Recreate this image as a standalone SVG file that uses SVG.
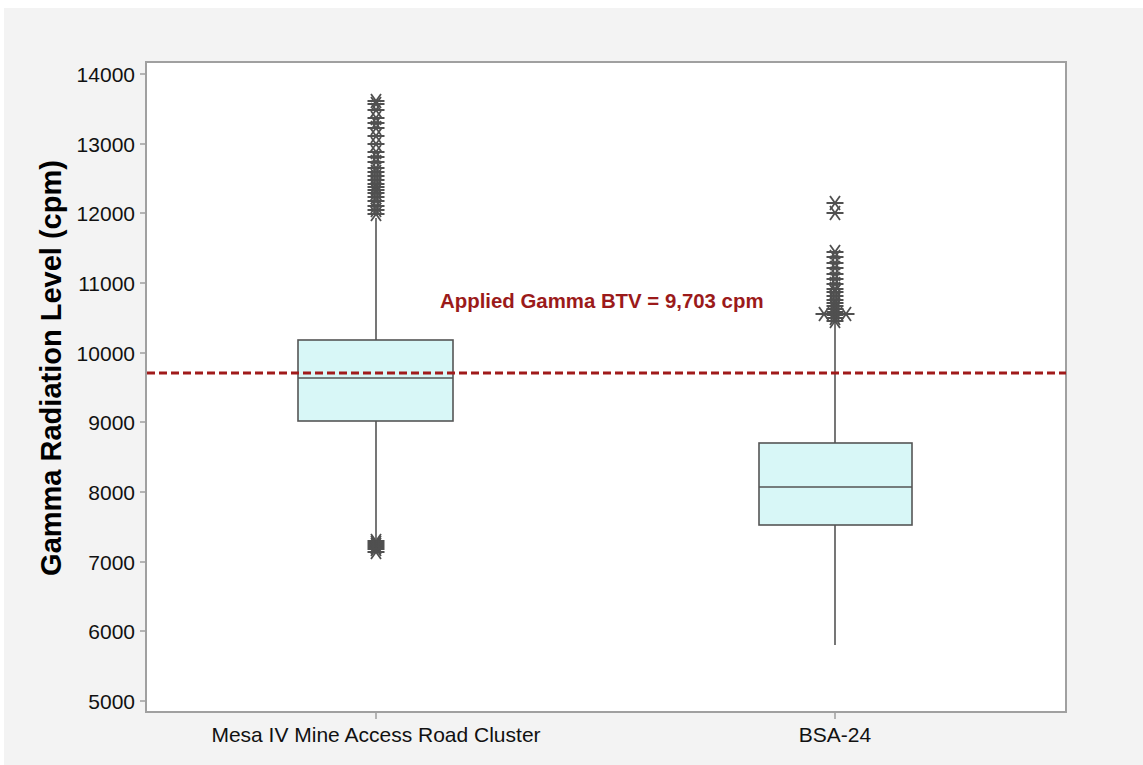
<svg xmlns="http://www.w3.org/2000/svg" xmlns:xlink="http://www.w3.org/1999/xlink" width="1143" height="765" viewBox="0 0 1143 765">
<style>
.tick{font-family:"Liberation Sans",Arial,sans-serif;font-size:21px;fill:#111}
.box{fill:#d8f7f7;stroke:#555;stroke-width:1.6}
.wh{stroke:#555;stroke-width:1.6;fill:none}
.ax{stroke:#a0a0a0;stroke-width:2;fill:none}
.tk{stroke:#a0a0a0;stroke-width:1.5}
</style>
<defs>
<g id="ast" stroke="#505050" stroke-width="1.8" fill="none">
<path d="M-8.5 0H8.5M-5 -7L5 7M-5 7L5 -7"/>
</g>
</defs>
<rect x="0" y="0" width="1143" height="765" fill="#ffffff"/>
<rect x="4" y="8" width="1139" height="757" fill="#f3f3f3"/>
<rect x="146" y="62" width="920" height="650" fill="#ffffff"/>
<g id="axes">
<path class="ax" d="M146 62H1066V712H146Z"/>
<g class="tk">
<path d="M140 74H146M140 144H146M140 213H146M140 283H146M140 353H146M140 422H146M140 492H146M140 562H146M140 631H146M140 701H146"/>
<path d="M376 712V719M835 712V719"/>
</g>
<g class="tick" text-anchor="end">
<text x="135" y="81.5">14000</text>
<text x="135" y="151.5">13000</text>
<text x="135" y="220.5">12000</text>
<text x="135" y="290.5">11000</text>
<text x="135" y="360.5">10000</text>
<text x="135" y="429.5">9000</text>
<text x="135" y="499.5">8000</text>
<text x="135" y="569.5">7000</text>
<text x="135" y="638.5">6000</text>
<text x="135" y="708.5">5000</text>
</g>
<g class="tick" text-anchor="middle">
<text x="376" y="742">Mesa IV Mine Access Road Cluster</text>
<text x="835" y="742">BSA-24</text>
</g>
<text transform="translate(61 368) rotate(-90)" text-anchor="middle" font-family="Liberation Sans,Arial,sans-serif" font-size="29" font-weight="bold" fill="#000">Gamma Radiation Level (cpm)</text>
</g>
<g id="box-mesa">
<path class="wh" d="M376 218V340M376 421V539"/>
<rect class="box" x="298" y="340" width="155" height="81"/>
<path class="wh" d="M298 378H453"/>
<g>
<use href="#ast" x="376" y="101"/><use href="#ast" x="376" y="104"/><use href="#ast" x="376" y="110"/>
<use href="#ast" x="376" y="118"/><use href="#ast" x="376" y="123"/><use href="#ast" x="376" y="128"/>
<use href="#ast" x="376" y="136"/><use href="#ast" x="376" y="144"/><use href="#ast" x="376" y="152"/>
<use href="#ast" x="376" y="157"/><use href="#ast" x="376" y="162"/><use href="#ast" x="376" y="168"/>
<use href="#ast" x="376" y="172"/><use href="#ast" x="376" y="176"/><use href="#ast" x="376" y="180"/>
<use href="#ast" x="376" y="184"/><use href="#ast" x="376" y="187"/><use href="#ast" x="376" y="190"/>
<use href="#ast" x="376" y="193"/><use href="#ast" x="376" y="197"/><use href="#ast" x="376" y="201"/>
<use href="#ast" x="376" y="206"/><use href="#ast" x="376" y="210"/><use href="#ast" x="376" y="214"/>
<use href="#ast" x="376" y="541"/><use href="#ast" x="376" y="543"/><use href="#ast" x="376" y="545"/>
<use href="#ast" x="376" y="547"/><use href="#ast" x="376" y="549"/><use href="#ast" x="376" y="552"/>
</g>
</g>
<g id="box-bsa">
<path class="wh" d="M835 320V443M835 525V645"/>
<rect class="box" x="759" y="443" width="153" height="82"/>
<path class="wh" d="M759 487H912"/>
<g>
<use href="#ast" x="835" y="203"/><use href="#ast" x="835" y="213"/>
<use href="#ast" x="835" y="252"/><use href="#ast" x="835" y="257"/><use href="#ast" x="835" y="263"/>
<use href="#ast" x="835" y="268"/><use href="#ast" x="835" y="274"/><use href="#ast" x="835" y="279"/>
<use href="#ast" x="835" y="284"/><use href="#ast" x="835" y="289"/><use href="#ast" x="835" y="292"/>
<use href="#ast" x="835" y="296"/><use href="#ast" x="835" y="300"/><use href="#ast" x="835" y="303"/>
<use href="#ast" x="835" y="306"/><use href="#ast" x="835" y="309"/><use href="#ast" x="835" y="312"/>
<use href="#ast" x="835" y="315"/><use href="#ast" x="835" y="318"/><use href="#ast" x="835" y="321"/>
<use href="#ast" x="824" y="314"/><use href="#ast" x="846" y="314"/>
</g>
</g>
<g id="btv">
<path d="M147 373H1066" stroke="#a01a1a" stroke-width="3" stroke-dasharray="8 4" fill="none"/>
<text x="440" y="308" font-family="Liberation Sans,Arial,sans-serif" font-size="20.4" font-weight="bold" fill="#9b1a1a">Applied Gamma BTV = 9,703 cpm</text>
</g>
</svg>
